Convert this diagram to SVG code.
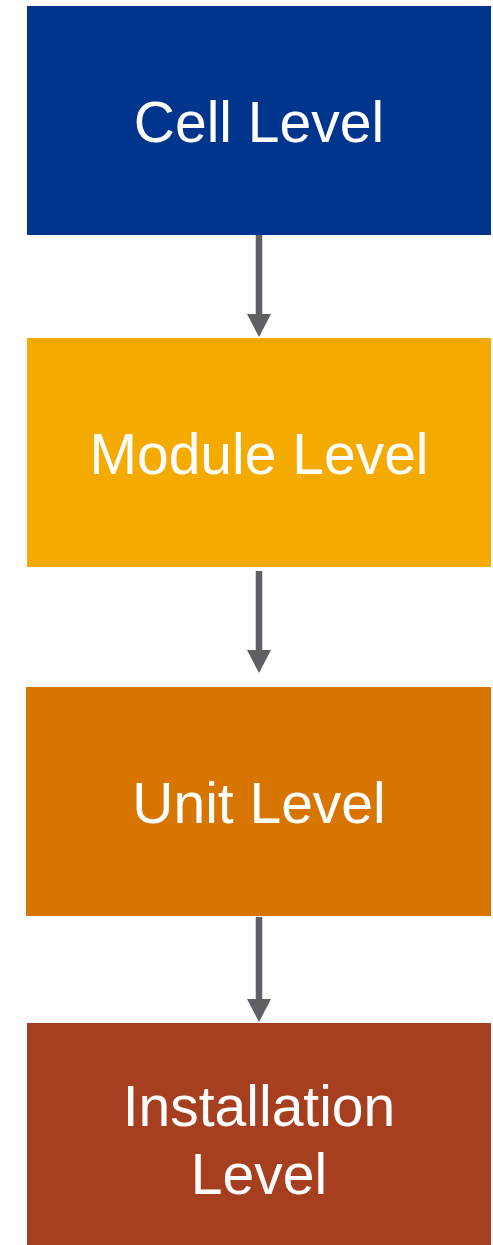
<svg xmlns="http://www.w3.org/2000/svg" width="493" height="1245" viewBox="0 0 493 1245">
<style>
.lbl{font-family:"Liberation Sans",Arial,sans-serif;font-size:57px;fill:#ffffff;text-anchor:middle}
.conn{stroke:#5f6064;stroke-width:6.5;fill:none}
</style>
<defs>
<marker id="ah" markerUnits="userSpaceOnUse" markerWidth="24" markerHeight="24" refX="0" refY="12" orient="auto" overflow="visible">
<path d="M0,0 L23,12 L0,24 Z" fill="#5f6064"/>
</marker>
</defs>
<rect width="493" height="1245" fill="#ffffff"/>
<g id="cell">
<rect x="27" y="6" width="464" height="229" fill="#00358e"/>
<text class="lbl" x="259" y="142">Cell Level</text>
</g>
<g id="module">
<rect x="27" y="338" width="464" height="229" fill="#f5aa00"/>
<text class="lbl" x="259" y="474">Module Level</text>
</g>
<g id="unit">
<rect x="26" y="687" width="465" height="229" fill="#d77500"/>
<text class="lbl" x="259" y="823">Unit Level</text>
</g>
<g id="installation">
<rect x="27" y="1023" width="464" height="222" fill="#a53f1f"/>
<text class="lbl" x="259" y="1126">Installation</text>
<text class="lbl" x="259" y="1194">Level</text>
</g>
<g id="connectors">
<line class="conn" x1="259" y1="235" x2="259" y2="314" marker-end="url(#ah)"/>
<line class="conn" x1="259" y1="571" x2="259" y2="650" marker-end="url(#ah)"/>
<line class="conn" x1="259" y1="917" x2="259" y2="999" marker-end="url(#ah)"/>
</g>
</svg>
